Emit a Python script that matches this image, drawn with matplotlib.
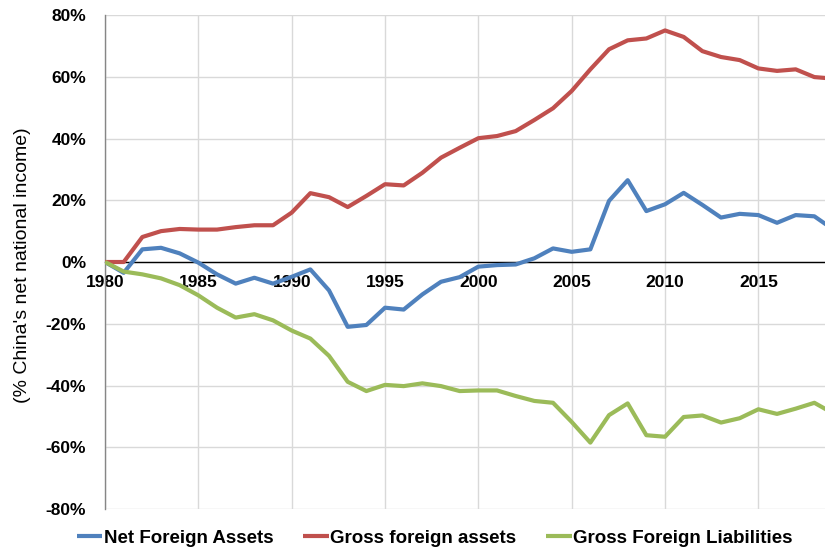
import matplotlib
matplotlib.use("Agg")
import matplotlib.pyplot as plt
from matplotlib.ticker import FuncFormatter, MultipleLocator

years = list(range(1980, 2020))

net_foreign_assets = [
    0.0, -3.5, 4.1, 4.6, 2.8, -0.2, -4.0, -7.0, -5.1, -7.0,
    -4.8, -2.4, -9.2, -21.0, -20.4, -14.8, -15.4, -10.5, -6.4, -4.9,
    -1.5, -1.0, -0.8, 1.2, 4.4, 3.3, 4.1, 19.8, 26.5, 16.5,
    18.7, 22.4, 18.5, 14.4, 15.6, 15.2, 12.7, 15.2, 14.8, 10.6,
]

gross_foreign_assets = [
    0.0, 0.0, 8.1, 10.0, 10.7, 10.5, 10.5, 11.3, 11.9, 11.9,
    16.0, 22.3, 21.0, 17.8, 21.4, 25.2, 24.8, 28.9, 33.8, 37.0,
    40.1, 40.8, 42.4, 46.0, 49.8, 55.4, 62.4, 68.9, 71.8, 72.4,
    75.0, 72.9, 68.3, 66.4, 65.4, 62.7, 61.9, 62.4, 59.9, 59.4,
]

gross_foreign_liabilities = [
    0.0, -3.1, -4.0, -5.3, -7.5, -10.8, -14.8, -18.0, -16.9, -18.9,
    -22.2, -24.8, -30.4, -38.8, -41.8, -39.8, -40.2, -39.3, -40.2, -41.8,
    -41.6, -41.6, -43.4, -45.0, -45.6, -51.8, -58.5, -49.6, -45.8, -56.1,
    -56.6, -50.2, -49.7, -52.0, -50.6, -47.7, -49.2, -47.5, -45.6, -49.0,
]

series_labels = ["Net Foreign Assets", "Gross foreign assets", "Gross Foreign Liabilities"]
series_colors = ["#4F81BD", "#C0504D", "#9BBB59"]

plt.rcParams["font.family"] = ["Liberation Sans", "DejaVu Sans"]

fig = plt.figure(figsize=(8.25, 5.52), dpi=100)
ax = fig.add_axes([0.1273, 0.0779, 0.8727, 0.8949])

for values, label, color in zip(
    [net_foreign_assets, gross_foreign_assets, gross_foreign_liabilities],
    series_labels, series_colors,
):
    ax.plot(years, values, color=color, lw=3.0, label=label,
            solid_joinstyle="round", solid_capstyle="butt", zorder=3)

ax.set_xlim(1980, 2018.57)
ax.set_ylim(-80, 80)

ax.yaxis.set_major_locator(MultipleLocator(20))
ax.xaxis.set_major_locator(MultipleLocator(5))
ax.yaxis.set_major_formatter(FuncFormatter(lambda v, p: f"{v:.0f}%"))
ax.xaxis.set_major_formatter(FuncFormatter(lambda v, p: f"{v:.0f}"))

ax.grid(True, color="#D9D9D9", lw=1.0, zorder=0)
ax.set_axisbelow(True)

for side in ("top", "right"):
    ax.spines[side].set_visible(False)
ax.spines["left"].set_color("#868686")
ax.spines["left"].set_linewidth(1.0)
ax.spines["bottom"].set_position(("data", 0))
ax.spines["bottom"].set_color("black")
ax.spines["bottom"].set_linewidth(1.0)
ax.spines["bottom"].set_zorder(2)

ax.tick_params(axis="both", length=0)
ax.tick_params(axis="y", pad=13.5)
ax.tick_params(axis="x", pad=9)
for lbl in ax.get_xticklabels() + ax.get_yticklabels():
    lbl.set_fontweight("bold")
    lbl.set_fontsize(12.5)

fig.text(0.027, 0.52, "(% China's net national income)", rotation=90,
         ha="center", va="center", fontsize=14)

handles, labels = ax.get_legend_handles_labels()
fig.legend(handles, labels, loc="center", bbox_to_anchor=(0.527, 0.025),
           ncol=3, frameon=False, handlelength=1.35, handletextpad=0.08,
           columnspacing=1.6, prop={"weight": "bold", "size": 13.5})

fig.savefig("out.png", dpi=100)
